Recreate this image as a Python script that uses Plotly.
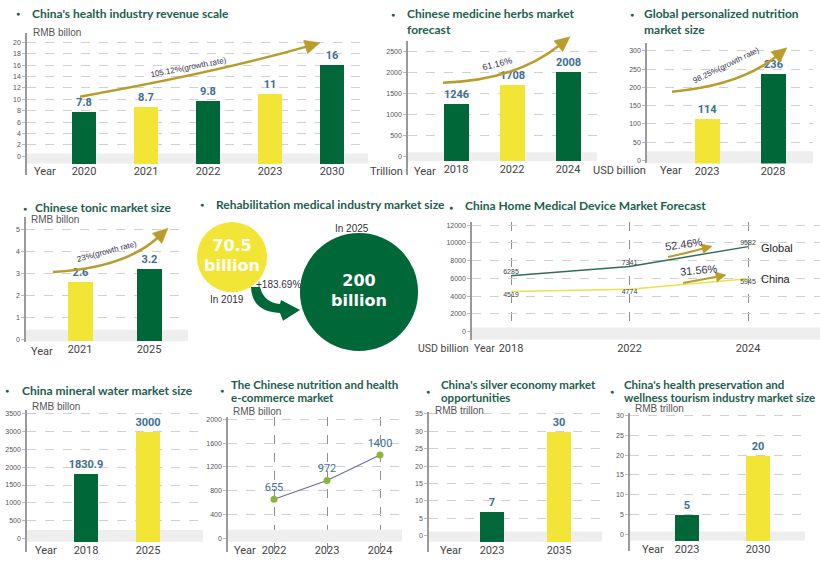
import math
import plotly.graph_objects as go

W, H = 820, 563

GREEN = "#006838"
YELLOW = "#f2e535"
TEAL = "#1e5d4f"
BLUE = "#3d6f93"
GOLD = "#b99c2b"
INK = "#3a3350"

# ---- data ----
health_years = ["2020", "2021", "2022", "2023", "2030"]
health_revenue = [7.8, 8.7, 9.8, 11, 16]

herb_years = ["2018", "2022", "2024"]
herb_market = [1246, 1708, 2008]

nutri_years = ["2023", "2028"]
nutri_market = [114, 236]

tonic_years = ["2021", "2025"]
tonic_market = [2.6, 3.2]

rehab_years = [2019, 2025]
rehab_market = [70.5, 200]

device_years = ["2018", "2022", "2024"]
device_global = [6285, 7341, 9582]
device_china = [4519, 4774, 5945]

water_years = ["2018", "2025"]
water_market = [1830.9, 3000]

ecom_years = ["2022", "2023", "2024"]
ecom_market = [655, 972, 1400]

silver_years = ["2023", "2035"]
silver_market = [7, 30]

tourism_years = ["2023", "2030"]
tourism_market = [5, 20]


def fx(x):
    return x / W


def fy(y):
    return 1 - y / H


fig = go.Figure()


def panel(n, left, right, top, bottom, zero, k, ticks, first, step, label_y, band, vgrid=False):
    s = "" if n == 1 else str(n)
    xr = [(left - first) / step, (right - first) / step]
    fig.update_layout({
        "xaxis" + s: dict(
            domain=[fx(left), fx(right)], type="category", range=xr,
            anchor="free", position=fy(label_y),
            showline=False, ticks="", zeroline=False,
            showgrid=vgrid, gridcolor="#8f8f8f", griddash="dash", gridwidth=1,
            tickfont=dict(family="Roboto", size=11, color="#444"), fixedrange=True),
        "yaxis" + s: dict(
            domain=[fy(bottom), fy(top)], anchor="x" + s,
            range=[(zero - bottom) / k, (zero - top) / k],
            tickvals=list(ticks), tickformat="d",
            showline=True, linecolor="#9a9a9a", linewidth=1.5,
            ticks="outside", ticklen=3, tickcolor="#bbbbbb",
            showgrid=True, gridcolor="#d0d0d0", griddash="dash", gridwidth=1,
            zeroline=False,
            tickfont=dict(family="Liberation Sans", size=7, color="#555"), fixedrange=True),
    })
    base = (zero - band[1]) / k
    fig.add_shape(type="rect", xref="x" + s, yref="y" + s,
                  x0=xr[0], x1=xr[1], y0=base, y1=(zero - band[0]) / k,
                  fillcolor="#eeeeee", line_width=0, layer="between")
    return "x" + s, "y" + s, base


def bars(axes, cats, vals, colors, width):
    xa, ya, base = axes
    fig.add_trace(go.Bar(
        x=cats, y=[v - base for v in vals], base=base, width=width,
        marker=dict(color=colors, line_width=0),
        text=["<b>%g</b>" % v for v in vals], textposition="outside",
        constraintext="none", cliponaxis=False,
        textfont=dict(family="Roboto", size=11, color=BLUE),
        xaxis=xa, yaxis=ya, hoverinfo="skip"))


def note(x, y, text, size=10, color="#444", xanchor="left", family="Liberation Sans", angle=0):
    fig.add_annotation(x=fx(x), y=fy(y), xref="paper", yref="paper", text=text,
                       showarrow=False, xanchor=xanchor, yanchor="middle",
                       textangle=angle, font=dict(size=size, color=color, family=family))


def title(bx, by, x, lines, y0, gap=13, size=12):
    note(bx, by, "●", size=7, color=TEAL, xanchor="center")
    for i, t in enumerate(lines):
        note(x, y0 + i * gap, "<b>%s</b>" % t, size=size, color=TEAL, family="Lato")


def arrow(x0, y0, cx, cy, x1, y1, width=2.5, head=15, half=7):
    dx, dy = x1 - cx, y1 - cy
    d = math.hypot(dx, dy)
    ux, uy = dx / d, dy / d
    bx, by = x1 - ux * head, y1 - uy * head
    fig.add_shape(type="path", xref="paper", yref="paper",
                  path="M %f,%f Q %f,%f %f,%f" % (fx(x0), fy(y0), fx(cx), fy(cy), fx(bx + ux * 2), fy(by + uy * 2)),
                  line=dict(color=GOLD, width=width), fillcolor="rgba(0,0,0,0)")
    nx, ny = -uy, ux
    fig.add_shape(type="path", xref="paper", yref="paper",
                  path="M %f,%f L %f,%f L %f,%f Z" % (
                      fx(x1), fy(y1), fx(bx + nx * half), fy(by + ny * half),
                      fx(bx - nx * half), fy(by - ny * half)),
                  line=dict(color=GOLD, width=0.5), fillcolor=GOLD)


# ---- China's health industry revenue scale ----
ax1 = panel(1, 27, 368, 32, 175, 155.7, 5.7, range(0, 21, 2), 84, 62, 163, (153, 163))
bars(ax1, health_years, health_revenue, [GREEN, YELLOW, GREEN, YELLOW, GREEN], 24 / 62)
title(18, 13, 30, ["China's health industry revenue scale"], 13)
note(31, 32, "RMB billon", size=10, color="#555")
note(32, 171, "Year", size=11, family="Roboto")
arrow(80, 96, 215, 72, 320, 42)
note(188, 67, "105.12%(growth rate)", size=8, color=INK, xanchor="center", angle=-11)

# ---- Chinese medicine herbs market forecast ----
ax2 = panel(2, 408, 597, 40, 175, 156, 105.3 / 2500, range(0, 2501, 500), 456, 56, 160.7, (151.7, 160.7))
bars(ax2, herb_years, herb_market, [GREEN, YELLOW, GREEN], 25 / 56)
title(393, 14, 405, ["Chinese medicine herbs market", "forecast"], 13, 16)
note(405, 171, "Trillion", size=11, family="Roboto", xanchor="right")
note(412, 171, "Year", size=11, family="Roboto")
arrow(443, 82, 515, 80, 570, 36)
note(497, 63, "61.16%", size=9, color=INK, xanchor="center", angle=-14)

# ---- Global personalized nutrition market size ----
ax3 = panel(3, 647, 813, 42, 163, 160, 110 / 300, range(0, 301, 50), 707, 66, 163, (150.7, 163))
bars(ax3, nutri_years, nutri_market, [YELLOW, GREEN], 25 / 66)
title(632, 14, 642, ["Global personalized nutrition", "market size"], 13, 16)
note(648, 170, "USD billion", size=11, family="Roboto", xanchor="right")
note(658, 170, "Year", size=11, family="Roboto")
arrow(672, 91, 740, 85, 787, 47)
note(726, 65, "98.25%(growth rate)", size=8, color=INK, xanchor="center", angle=-26)

# ---- Chinese tonic market size ----
ax4 = panel(4, 26, 188, 217, 342, 340, 110.7 / 5, range(0, 6), 80, 69, 341.7, (330, 341.7))
bars(ax4, tonic_years, tonic_market, [YELLOW, GREEN], 25 / 69)
title(25, 208, 33, ["Chinese tonic market size"], 207)
note(29, 219, "RMB billon", size=10, color="#555")
note(29, 352, "Year", size=11, family="Roboto")
arrow(53, 272, 125, 268, 168, 228)
note(107, 251, "23%(growth rate)", size=8, color=INK, xanchor="center", angle=-15)

# ---- Rehabilitation medical industry market size ----
fig.update_layout(
    xaxis5=dict(domain=[fx(190), fx(430)], range=[2017.016, 2028.354], visible=False, fixedrange=True),
    yaxis5=dict(domain=[fy(365), fy(215)], range=[470.1, -84.9], visible=False, fixedrange=True,
                anchor="x5"),
)
fig.add_trace(go.Scatter(
    x=rehab_years, y=rehab_market, mode="markers+text",
    marker=dict(size=[8.35 * math.sqrt(v) for v in rehab_market], color=[YELLOW, GREEN],
                line_width=0, opacity=1),
    text=["<b>%g<br>billion</b>" % v for v in rehab_market], textposition="middle center",
    textfont=dict(family="DejaVu Sans", size=16, color="white"),
    xaxis="x5", yaxis="y5", hoverinfo="skip", cliponaxis=False))
title(202, 204, 214, ["Rehabilitation medical industry market size"], 204)
note(227, 300, "In 2019", size=10, color="#333", xanchor="center")
note(352, 228, "In 2025", size=10, color="#333", xanchor="center")
note(278, 285, "+183.69%", size=10, color=INK, xanchor="center")
green_arrow = [(260, 287), (264, 303), (280, 304), (281, 300), (300, 310), (283, 321), (280, 313), (252, 312), (251, 287)]
fig.add_shape(type="path", xref="paper", yref="paper", fillcolor=GREEN, line_width=0,
              path="M %f,%f Q %f,%f %f,%f L %f,%f L %f,%f L %f,%f L %f,%f Q %f,%f %f,%f Z" % tuple(
                  v for pt in green_arrow for v in (fx(pt[0]), fy(pt[1]))))

# ---- China Home Medical Device Market Forecast ----
ax6 = panel(6, 472, 820, 222, 340, 331.7, 106.7 / 12000, range(0, 12001, 2000), 511, 118.5, 340, (327.7, 340), vgrid=True)
fig.add_trace(go.Scatter(
    x=device_years, y=device_global, mode="lines+text", text=[str(v) for v in device_global],
    textposition="top center", line=dict(color="#2f6e5c", width=1.5),
    textfont=dict(family="Liberation Sans", size=7, color="#444"),
    xaxis=ax6[0], yaxis=ax6[1], hoverinfo="skip", cliponaxis=False))
fig.add_trace(go.Scatter(
    x=device_years, y=device_china, mode="lines+text", text=[str(v) for v in device_china],
    textposition="bottom center", line=dict(color="#ede04a", width=1.5),
    textfont=dict(family="Liberation Sans", size=7, color="#444"),
    xaxis=ax6[0], yaxis=ax6[1], hoverinfo="skip", cliponaxis=False))
title(451, 207, 463, ["China Home Medical Device Market Forecast"], 205)
note(416, 349, "USD billion", size=10.5, family="Roboto")
note(472, 349, "Year", size=10.5, family="Roboto")
note(759, 248, "Global", size=11, color="#222")
note(759, 279, "China", size=11, color="#222")
arrow(668, 257, 690, 252, 712, 246, width=2, head=10, half=5)
note(684, 244, "52.46%", size=11, color=INK, xanchor="center", angle=-8)
arrow(683, 283, 705, 279, 726, 275, width=2, head=10, half=5)
note(699, 270, "31.56%", size=11, color=INK, xanchor="center", angle=-5)

# ---- China mineral water market size ----
ax7 = panel(7, 27, 203, 410, 553, 539.3, 125 / 3500, range(0, 3501, 500), 86, 62, 542.7, (531, 542.7))
bars(ax7, water_years, water_market, [GREEN, YELLOW], 24 / 62)
title(7, 391, 20, ["China mineral water market size"], 391)
note(30, 407, "RMB billon", size=10, color="#555")
note(33, 551, "Year", size=11, family="Roboto")

# ---- The Chinese nutrition and health e-commerce market ----
ax8 = panel(8, 228, 402, 417, 553, 539, 119 / 2000, range(0, 2001, 400), 274, 53, 542.7, (530.7, 542.7), vgrid=True)
fig.add_trace(go.Scatter(
    x=ecom_years, y=ecom_market, mode="lines+markers+text", text=[str(v) for v in ecom_market],
    textposition="top center", line=dict(color="#6b6f96", width=1.2),
    marker=dict(color="#8cb43a", size=7),
    textfont=dict(family="Roboto", size=11, color=BLUE),
    xaxis=ax8[0], yaxis=ax8[1], hoverinfo="skip", cliponaxis=False))
title(222, 391, 229, ["The Chinese nutrition and health", "e-commerce market"], 385, 13, 11.5)
note(231, 412, "RMB billon", size=10, color="#555")
note(232, 551, "Year", size=11, family="Roboto")

# ---- China's silver economy market opportunities ----
ax9 = panel(9, 429, 602, 412, 553, 536.7, 122.3 / 35, range(0, 36, 5), 492, 67, 542.7, (532.3, 542.7))
bars(ax9, silver_years, silver_market, [GREEN, YELLOW], 24 / 67)
title(428, 392, 439, ["China's silver economy market", "opportunities"], 385, 13, 11.5)
note(433, 411, "RMB trillon", size=10, color="#555")
note(438, 551, "Year", size=11, family="Roboto")

# ---- China's health preservation and wellness tourism industry market size ----
ax10 = panel(10, 630, 805, 413, 552, 535, 119 / 30, range(0, 31, 5), 687, 71, 541.7, (532.3, 541.7))
bars(ax10, tourism_years, tourism_market, [GREEN, YELLOW], 24 / 71)
title(612, 392, 622, ["China's health preservation and", "wellness tourism industry market size"], 385, 13, 11.5)
note(633, 409, "RMB trillon", size=10, color="#555")
note(640, 550, "Year", size=11, family="Roboto")

fig.update_layout(
    width=W, height=H, margin=dict(l=0, r=0, t=0, b=0),
    paper_bgcolor="white", plot_bgcolor="white",
    showlegend=False, bargap=0,
    font=dict(family="Roboto"),
)

fig.write_html("out.html", config={"displayModeBar": False},
               post_script="document.body.style.margin='0';")
